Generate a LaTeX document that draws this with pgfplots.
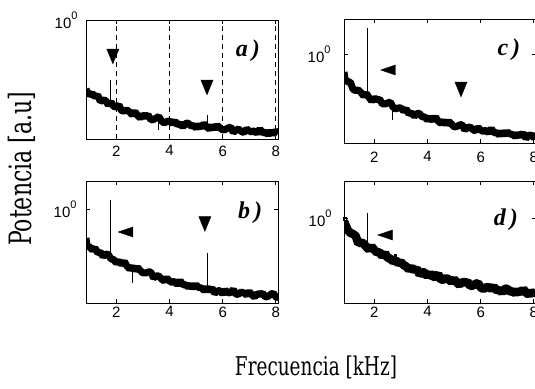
\documentclass[border=0pt]{standalone}
\usepackage{pgfplots}
\pgfplotsset{compat=1.18}
\usepackage{fontspec}
\setmainfont{Liberation Serif}
\newfontfamily\sansf{Liberation Sans}
\newfontfamily\labserif{DejaVu Serif}
\newcommand{\tickfont}{\sansf\fontsize{15}{15}\selectfont}
\newcommand{\tenzero}{10\raisebox{0.6em}{\fontsize{11}{11}\selectfont 0}}
\newcommand{\panelfont}{\fontsize{24}{24}\selectfont\bfseries\itshape}

\pgfplotsset{
  panel/.style={
    scale only axis, width=192pt, xmin=0.86, xmax=8.08,
    xtick={2,4,6,8}, xticklabels={2,4,6,8},
    ytick={0}, yticklabels={\tenzero},
    tick align=inside,
    major tick length=4pt,
    axis line style={line width=0.9pt},
    every tick/.append style={line width=0.8pt, black},
    tick label style={font=\tickfont},
    anchor=south west,
  },
  band/.style={black, line width=#1, line join=bevel, line cap=butt, mark=none},
  spike/.style={black, line width=1pt, mark=none},
  downtri/.style={only marks, black, mark=triangle*, mark size=7pt, mark options={yscale=-1.4, fill=black, draw=black}},
  lefttri/.style={only marks, black, mark=triangle*, mark size=5.8pt, mark options={rotate=90, yscale=1.7, fill=black, draw=black}},
}

\begin{document}
\begin{tikzpicture}
\useasboundingbox (0,0) rectangle (535pt,388pt);
\clip (0,0) rectangle (535pt,388pt);

% ---------- a ----------
\begin{axis}[panel, at={(86pt,249pt)}, height=119pt, ymin=-2.38, ymax=0,
  xmajorgrids, grid style={black, line width=1pt, dash pattern=on 5pt off 4pt},
  xticklabel style={yshift=-3pt}, yticklabel style={xshift=-5pt}]
\addplot[band=7pt] coordinates {
(0.86,-1.38)(0.9,-1.43)(1.0,-1.50)(1.1,-1.47)(1.2,-1.54)(1.3,-1.50)(1.4,-1.63)(1.5,-1.60)(1.6,-1.61)(1.7,-1.70)(1.8,-1.64)(1.9,-1.73)(2.0,-1.74)(2.1,-1.70)(2.2,-1.82)(2.3,-1.82)(2.4,-1.80)(2.5,-1.84)(2.6,-1.90)(2.7,-1.83)(2.8,-1.91)(2.9,-1.96)(3.0,-1.90)(3.1,-1.93)(3.2,-1.90)(3.3,-2.00)(3.4,-1.99)(3.5,-1.96)(3.6,-1.93)(3.7,-2.02)(3.8,-2.06)(3.9,-2.03)(4.0,-2.02)(4.1,-2.07)(4.2,-2.02)(4.3,-2.10)(4.4,-2.07)(4.5,-2.14)(4.6,-2.07)(4.7,-2.06)(4.8,-2.12)(4.9,-2.11)(5.0,-2.16)(5.1,-2.10)(5.2,-2.15)(5.3,-2.07)(5.4,-2.14)(5.5,-2.18)(5.6,-2.12)(5.7,-2.17)(5.8,-2.11)(5.9,-2.16)(6.0,-2.20)(6.1,-2.19)(6.2,-2.16)(6.3,-2.14)(6.4,-2.25)(6.5,-2.20)(6.6,-2.18)(6.7,-2.23)(6.8,-2.25)(6.9,-2.18)(7.0,-2.22)(7.1,-2.24)(7.2,-2.21)(7.3,-2.27)(7.4,-2.18)(7.5,-2.26)(7.6,-2.24)(7.7,-2.29)(7.8,-2.23)(7.9,-2.28)(8.0,-2.22)(8.1,-2.26)};
\addplot[spike] coordinates {(1.77,-1.66) (1.77,-1.20)};
\addplot[spike] coordinates {(5.43,-2.14) (5.43,-1.90)};
\addplot[spike] coordinates {(3.6,-1.93) (3.6,-2.20)};
\addplot[downtri] coordinates {(1.87,-0.68) (5.41,-1.30)};
\node[font=\panelfont] at (axis cs:6.95,-0.62) {a\,)};
\end{axis}

% ---------- c ----------
\begin{axis}[panel, at={(344pt,245pt)}, height=124pt, ymin=-1.78, ymax=0.70,
  xticklabel style={yshift=-5pt}, yticklabel style={xshift=-10pt}]
\addplot[band=7pt] coordinates {
(0.86,-0.36)(0.9,-0.50)(1.0,-0.56)(1.1,-0.56)(1.2,-0.71)(1.3,-0.73)(1.4,-0.72)(1.5,-0.77)(1.6,-0.84)(1.7,-0.79)(1.8,-0.87)(1.9,-0.94)(2.0,-0.88)(2.1,-0.92)(2.2,-0.90)(2.3,-1.00)(2.4,-1.00)(2.5,-0.98)(2.6,-0.96)(2.7,-1.06)(2.8,-1.10)(2.9,-1.08)(3.0,-1.08)(3.1,-1.14)(3.2,-1.10)(3.3,-1.20)(3.4,-1.17)(3.5,-1.25)(3.6,-1.19)(3.7,-1.19)(3.8,-1.26)(3.9,-1.26)(4.0,-1.32)(4.1,-1.27)(4.2,-1.33)(4.3,-1.26)(4.4,-1.34)(4.5,-1.39)(4.6,-1.34)(4.7,-1.40)(4.8,-1.35)(4.9,-1.40)(5.0,-1.46)(5.1,-1.45)(5.2,-1.42)(5.3,-1.41)(5.4,-1.52)(5.5,-1.47)(5.6,-1.46)(5.7,-1.51)(5.8,-1.54)(5.9,-1.47)(6.0,-1.52)(6.1,-1.55)(6.2,-1.52)(6.3,-1.58)(6.4,-1.49)(6.5,-1.58)(6.6,-1.57)(6.7,-1.62)(6.8,-1.56)(6.9,-1.61)(7.0,-1.56)(7.1,-1.60)(7.2,-1.61)(7.3,-1.65)(7.4,-1.60)(7.5,-1.64)(7.6,-1.58)(7.7,-1.69)(7.8,-1.63)(7.9,-1.62)(8.0,-1.68)(8.1,-1.60)};
\addplot[spike] coordinates {(1.76,-0.85) (1.76,0.52)};
\addplot[spike] coordinates {(2.7,-1.00) (2.7,-1.32)};
\addplot[lefttri] coordinates {(2.61,-0.32)};
\addplot[downtri] coordinates {(5.26,-0.66)};
\node[font=\panelfont] at (axis cs:7.06,0.08) {c\,)};
\end{axis}

% ---------- b ----------
\begin{axis}[panel, at={(86pt,85pt)}, height=122pt, ymin=-1.88, ymax=0.56,
  xticklabel style={yshift=0pt}, yticklabel style={xshift=-6pt}]
\addplot[band=7pt] coordinates {
(0.86,-0.58)(0.9,-0.74)(1.0,-0.76)(1.1,-0.82)(1.2,-0.78)(1.3,-0.88)(1.4,-0.86)(1.5,-0.95)(1.6,-0.90)(1.7,-0.91)(1.8,-1.00)(1.9,-1.01)(2.0,-1.08)(2.1,-1.04)(2.2,-1.11)(2.3,-1.05)(2.4,-1.14)(2.5,-1.20)(2.6,-1.16)(2.7,-1.22)(2.8,-1.17)(2.9,-1.23)(3.0,-1.28)(3.1,-1.28)(3.2,-1.26)(3.3,-1.26)(3.4,-1.38)(3.5,-1.34)(3.6,-1.34)(3.7,-1.40)(3.8,-1.44)(3.9,-1.38)(4.0,-1.44)(4.1,-1.47)(4.2,-1.44)(4.3,-1.52)(4.4,-1.43)(4.5,-1.52)(4.6,-1.51)(4.7,-1.56)(4.8,-1.52)(4.9,-1.57)(5.0,-1.52)(5.1,-1.57)(5.2,-1.58)(5.3,-1.63)(5.4,-1.58)(5.5,-1.63)(5.6,-1.58)(5.7,-1.69)(5.8,-1.64)(5.9,-1.63)(6.0,-1.70)(6.1,-1.62)(6.2,-1.68)(6.3,-1.67)(6.4,-1.61)(6.5,-1.71)(6.6,-1.70)(6.7,-1.66)(6.8,-1.68)(6.9,-1.72)(7.0,-1.65)(7.1,-1.72)(7.2,-1.76)(7.3,-1.69)(7.4,-1.71)(7.5,-1.68)(7.6,-1.76)(7.7,-1.75)(7.8,-1.71)(7.9,-1.68)(8.0,-1.76)(8.1,-1.78)};
\addplot[spike] coordinates {(1.77,-0.97) (1.77,0.18)};
\addplot[spike] coordinates {(5.43,-1.60) (5.43,-0.88)};
\addplot[spike] coordinates {(2.6,-1.16) (2.6,-1.48)};
\addplot[lefttri] coordinates {(2.44,-0.46)};
\addplot[downtri] coordinates {(5.33,-0.25)};
\node[font=\panelfont] at (axis cs:7.03,-0.08) {b\,)};
\end{axis}

% ---------- d ----------
\begin{axis}[panel, at={(344pt,85pt)}, height=122pt, ymin=-1.70, ymax=0.74,
  xticklabel style={yshift=0pt}, yticklabel style={xshift=-9pt}]
\addplot[band=8.5pt] coordinates {
(0.86,-0.06)(0.9,-0.12)(1.0,-0.24)(1.1,-0.30)(1.2,-0.32)(1.3,-0.36)(1.4,-0.51)(1.5,-0.49)(1.6,-0.51)(1.7,-0.58)(1.8,-0.63)(1.9,-0.57)(2.0,-0.64)(2.1,-0.69)(2.2,-0.68)(2.3,-0.77)(2.4,-0.70)(2.5,-0.80)(2.6,-0.81)(2.7,-0.87)(2.8,-0.84)(2.9,-0.91)(3.0,-0.88)(3.1,-0.94)(3.2,-0.97)(3.3,-1.03)(3.4,-0.99)(3.5,-1.05)(3.6,-1.01)(3.7,-1.13)(3.8,-1.09)(3.9,-1.09)(4.0,-1.17)(4.1,-1.10)(4.2,-1.18)(4.3,-1.17)(4.4,-1.12)(4.5,-1.24)(4.6,-1.23)(4.7,-1.20)(4.8,-1.23)(4.9,-1.28)(5.0,-1.22)(5.1,-1.29)(5.2,-1.34)(5.3,-1.27)(5.4,-1.30)(5.5,-1.27)(5.6,-1.36)(5.7,-1.35)(5.8,-1.32)(5.9,-1.30)(6.0,-1.39)(6.1,-1.42)(6.2,-1.39)(6.3,-1.38)(6.4,-1.42)(6.5,-1.37)(6.6,-1.46)(6.7,-1.43)(6.8,-1.49)(6.9,-1.42)(7.0,-1.41)(7.1,-1.48)(7.2,-1.46)(7.3,-1.51)(7.4,-1.45)(7.5,-1.50)(7.6,-1.42)(7.7,-1.49)(7.8,-1.53)(7.9,-1.48)(8.0,-1.52)(8.1,-1.46)};
\addplot[spike] coordinates {(1.76,-0.60) (1.76,0.10)};
\addplot[black, line width=3pt, mark=none] coordinates {(2.8,-0.84) (2.8,-0.72)};
\addplot[only marks, black, mark=square, mark size=1.6pt, mark options={line width=0.6pt, fill=white}] coordinates {(0.90,-0.02)};
\addplot[lefttri] coordinates {(2.50,-0.34)};
\node[font=\panelfont] at (axis cs:6.95,-0.04) {d\,)};
\end{axis}

% axis titles
\node[inner sep=0pt, rotate=90] at (22pt,219pt) {\resizebox{154pt}{!}{\scalebox{1}[1.4]{\labserif\fontsize{18}{18}\selectfont Potencia [a.u]}}};
\node[inner sep=0pt] at (316pt,20.5pt) {\resizebox{162pt}{!}{\scalebox{1}[1.4]{\labserif\fontsize{18}{18}\selectfont Frecuencia [kHz]}}};
\end{tikzpicture}
\end{document}
